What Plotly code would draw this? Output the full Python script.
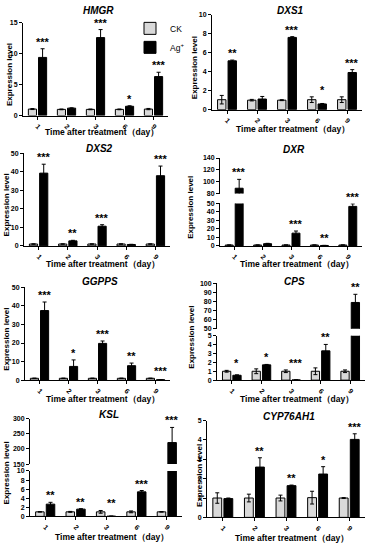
import plotly.graph_objects as go

W, H = 371, 550
DAYS = ["1", "2", "3", "6", "9"]

# ---------------- data ----------------
hmgr_ck = [1.05, 1.0, 1.0, 1.0, 1.05]
hmgr_ck_err = [0.08, 0.06, 0.06, 0.06, 0.1]
hmgr_ag = [9.4, 1.2, 12.6, 1.5, 6.3]
hmgr_ag_err = [1.4, 0.06, 1.3, 0.08, 0.7]
hmgr_sig = ["***", "", "***", "*", "***"]

dxs1_ck = [1.05, 1.0, 1.0, 1.05, 1.05]
dxs1_ck_err = [0.45, 0.08, 0.05, 0.3, 0.3]
dxs1_ag = [5.15, 1.12, 7.62, 0.6, 3.92]
dxs1_ag_err = [0.08, 0.27, 0.08, 0.05, 0.3]
dxs1_sig = ["**", "", "***", "*", "***"]

dxs2_ck = [1.0, 1.0, 1.0, 1.0, 1.0]
dxs2_ck_err = [0.1, 0.1, 0.1, 0.1, 0.1]
dxs2_ag = [39.2, 2.7, 10.6, 0.75, 37.8]
dxs2_ag_err = [4.8, 0.3, 0.8, 0.1, 5.2]
dxs2_sig = ["***", "**", "***", "", "***"]

dxr_ck = [1.0, 1.0, 1.0, 1.0, 1.0]
dxr_ck_err = [0.1, 0.1, 0.1, 0.1, 0.1]
dxr_ag = [89, 2.6, 15, 0.5, 46.5]
dxr_ag_err = [15, 0.4, 2.5, 0.1, 3]
dxr_sig = ["***", "", "***", "**", "***"]

ggpps_ck = [1.0, 1.0, 1.0, 1.0, 1.0]
ggpps_ck_err = [0.1, 0.1, 0.1, 0.1, 0.1]
ggpps_ag = [37.5, 7.4, 19.8, 7.8, 0.25]
ggpps_ag_err = [4.6, 3.5, 1.3, 1.4, 0.05]
ggpps_sig = ["***", "*", "***", "**", "***"]

cps_ck = [1.0, 1.0, 1.0, 1.0, 1.0]
cps_ck_err = [0.1, 0.27, 0.15, 0.38, 0.15]
cps_ag = [0.55, 1.72, 0.03, 3.3, 79]
cps_ag_err = [0.05, 0.05, 0.0, 0.72, 9]
cps_sig = ["*", "*", "***", "**", "**"]

ksl_ck = [1.0, 1.0, 1.0, 1.0, 1.0]
ksl_ck_err = [0.05, 0.1, 0.3, 0.2, 0.05]
ksl_ag = [2.7, 1.6, 0.05, 5.4, 221]
ksl_ag_err = [0.4, 0.1, 0.0, 0.3, 50]
ksl_sig = ["**", "**", "**", "***", "***"]

cyp_ck = [1.0, 1.0, 1.0, 1.02, 1.0]
cyp_ck_err = [0.27, 0.2, 0.15, 0.33, 0.02]
cyp_ag = [0.97, 2.6, 1.64, 2.24, 4.03]
cyp_ag_err = [0.03, 0.48, 0.03, 0.38, 0.29]
cyp_sig = ["", "**", "**", "*", "***"]

# ---------------- layout geometry (pixels) ----------------
panels = [
    dict(gene="HMGR", ck=hmgr_ck, cke=hmgr_ck_err, ag=hmgr_ag, age=hmgr_ag_err, sig=hmgr_sig,
         x0=23, x1=168, ty=7, yx=9, xty=130, low=([0, 15], 5, 19, 113), up=None),
    dict(gene="DXS1", ck=dxs1_ck, cke=dxs1_ck_err, ag=dxs1_ag, age=dxs1_ag_err, sig=dxs1_sig,
         x0=212, x1=362, ty=7, yx=194, xty=127, low=([0, 10], 2, 11, 107), up=None),
    dict(gene="DXS2", ck=dxs2_ck, cke=dxs2_ck_err, ag=dxs2_ag, age=dxs2_ag_err, sig=dxs2_sig,
         x0=24, x1=170, ty=146, yx=6, xty=263, low=([0, 50], 10, 151, 245), up=None),
    dict(gene="DXR", ck=dxr_ck, cke=dxr_ck_err, ag=dxr_ag, age=dxr_ag_err, sig=dxr_sig,
         x0=220, x1=362, ty=147, yx=191, xty=263, low=([0, 50], 10, 202, 245),
         up=([80, 140], 20, 156, 192)),
    dict(gene="GGPPS", ck=ggpps_ck, cke=ggpps_ck_err, ag=ggpps_ag, age=ggpps_ag_err, sig=ggpps_sig,
         x0=25, x1=170, ty=281, yx=7, xty=400, low=([0, 50], 10, 287, 381), up=None),
    dict(gene="CPS", ck=cps_ck, cke=cps_ck_err, ag=cps_ag, age=cps_ag_err, sig=cps_sig,
         x0=217, x1=365, ty=281, yx=192, xty=400, low=([0, 5], 1, 336, 381),
         up=([50, 100], 10, 283, 329)),
    dict(gene="KSL", ck=ksl_ck, cke=ksl_ck_err, ag=ksl_ag, age=ksl_ag_err, sig=ksl_sig,
         x0=30, x1=182, ty=416, yx=6, xty=540, low=([0, 10], 2, 473, 519),
         up=([150, 300], 50, 420, 466)),
    dict(gene="CYP76AH1", ck=cyp_ck, cke=cyp_ck_err, ag=cyp_ag, age=cyp_ag_err, sig=cyp_sig,
         x0=207, x1=365, ty=418, yx=200, xty=541, low=([0, 5], 1, 422, 520), up=None),
]

FONT = "Liberation Sans, Arial, sans-serif"
BARGAP = 0.3
BARGROUPGAP = 0.2
CK_COLOR = "#d9d9d9"
TICKFONT = dict(size=7, family=FONT, weight="bold")

fig = go.Figure()
layout = dict(width=W, height=H, margin=dict(l=0, r=0, t=0, b=0),
              paper_bgcolor="white", plot_bgcolor="rgba(0,0,0,0)",
              barmode="group", bargap=BARGAP, bargroupgap=BARGROUPGAP,
              font=dict(family=FONT, color="black", size=8),
              showlegend=True,
              legend=dict(x=130 / W, y=1 - 10 / H, xanchor="left", yanchor="top",
                          font=dict(size=8.5, family=FONT), bgcolor="rgba(0,0,0,0)",
                          tracegroupgap=0, itemwidth=30))
annotations = []


def ypaper(py):
    return 1 - py / H


axis_common = dict(showline=True, linecolor="black", linewidth=1, ticks="outside",
                   ticklen=3, tickwidth=1, tickcolor="black", showgrid=False, zeroline=False,
                   fixedrange=True, tickfont=TICKFONT)

next_upper = len(panels) + 1
ag_shift = (1 - BARGAP) / 4

for k, p in enumerate(panels):
    idx = k + 1
    xname = f"x{idx}"
    ylow = f"y{idx}"
    layout[f"xaxis{idx}"] = dict(domain=[p["x0"] / W, p["x1"] / W], anchor=ylow,
                                 range=[-0.5, 4.5], tickvals=list(range(5)), ticktext=DAYS,
                                 tickangle=45, **axis_common)
    rng, dt, ptop, pbot = p["low"]
    layout[f"yaxis{idx}"] = dict(domain=[ypaper(pbot), ypaper(ptop)], anchor=xname,
                                 range=rng, dtick=dt, tick0=rng[0], **axis_common)
    yaxes = [(ylow, rng)]
    if p["up"] is not None:
        urng, udt, utop, ubot = p["up"]
        uname = f"y{next_upper}"
        layout[f"yaxis{next_upper}"] = dict(domain=[ypaper(ubot), ypaper(utop)], anchor=xname,
                                            range=urng, dtick=udt, tick0=urng[0], **axis_common)
        yaxes.append((uname, urng))
        next_upper += 1

    for j, (yname, r) in enumerate(yaxes):
        first = (k == 0 and j == 0)
        fig.add_trace(go.Bar(
            x=list(range(5)), y=p["ck"], name="CK", legendgroup="CK", showlegend=first,
            marker=dict(color=CK_COLOR, line=dict(color="black", width=1)),
            error_y=dict(type="data", array=p["cke"], color="black", thickness=1, width=2),
            xaxis=xname, yaxis=yname, offsetgroup="ck", hoverinfo="skip"))
        fig.add_trace(go.Bar(
            x=list(range(5)), y=p["ag"], name="Ag<sup>+</sup>", legendgroup="Ag", showlegend=first,
            marker=dict(color="black", line=dict(color="black", width=1)),
            error_y=dict(type="data", array=p["age"], color="black", thickness=1, width=2),
            xaxis=xname, yaxis=yname, offsetgroup="ag", hoverinfo="skip"))

    # significance stars
    for i, s in enumerate(p["sig"]):
        if not s:
            continue
        top = max(p["ck"][i] + p["cke"][i], p["ag"][i] + p["age"][i])
        yref = ylow
        if p["up"] is not None and top > p["low"][0][1]:
            yref = yaxes[1][0]
        annotations.append(dict(x=i + ag_shift, y=top, xref=xname, yref=yref, text=f"<b>{s}</b>",
                                showarrow=False, xanchor="center", yanchor="bottom", yshift=-1,
                                font=dict(size=11, family=FONT)))

    top_px = p["up"][2] if p["up"] is not None else p["low"][2]
    # panel title
    annotations.append(dict(x=(p["x0"] + p["x1"]) / 2 / W + 3 / W, y=ypaper(p["ty"]), xref="paper",
                            yref="paper", text=f"<b><i>{p['gene']}</i></b>", showarrow=False,
                            xanchor="center", yanchor="middle", font=dict(size=10, family=FONT)))
    # y title
    annotations.append(dict(x=p["yx"] / W, y=ypaper((top_px + p["low"][3]) / 2 + 6), xref="paper",
                            yref="paper", text="<b>Expression level</b>", textangle=-90,
                            showarrow=False, xanchor="center", yanchor="middle",
                            font=dict(size=8, family=FONT)))
    # x title
    annotations.append(dict(x=(p["x0"] + p["x1"]) / 2 / W + 6 / W, y=ypaper(p["xty"]), xref="paper",
                            yref="paper", text="<b>Time after treatment（day）</b>",
                            showarrow=False, xanchor="center", yanchor="middle",
                            font=dict(size=8.5, family=FONT)))

layout["annotations"] = annotations
fig.update_layout(**layout)
fig.write_html("out.html", config={"displayModeBar": False},
               post_script="document.body.style.margin='0px';document.body.style.overflow='hidden';")
